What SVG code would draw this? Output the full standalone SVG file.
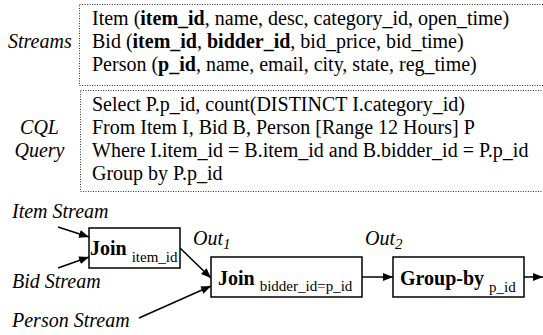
<svg xmlns="http://www.w3.org/2000/svg" width="543" height="335" viewBox="0 0 543 335">
<defs>
<marker id="ah" viewBox="0 0 10 10" refX="10" refY="5" markerWidth="10" markerHeight="10" markerUnits="userSpaceOnUse" orient="auto">
<path d="M0,1 L10,5 L0,9 Z" fill="#000"/>
</marker>
</defs>
<style>
text{font-family:"Liberation Serif","Times New Roman",serif;font-size:20px;fill:#000}
.it{font-style:italic}
.b{font-weight:bold}
.sub{font-size:15px}
.dot{fill:none;stroke:#333;stroke-width:1;stroke-dasharray:1 1.5}
.box{fill:#fff;stroke:#000;stroke-width:1.5}
.edge{fill:none;stroke:#000;stroke-width:1.5;marker-end:url(#ah)}
</style>
<g id="streams">
<rect class="dot" x="79.5" y="4.5" width="470" height="81"/>
<text class="it" x="8" y="48">Streams</text>
<text x="92" y="25">Item (<tspan class="b">item_id</tspan>, name, desc, category_id, open_time)</text>
<text x="92" y="48">Bid (<tspan class="b">item_id</tspan>, <tspan class="b">bidder_id</tspan>, bid_price, bid_time)</text>
<text x="92" y="71">Person (<tspan class="b">p_id</tspan>, name, email, city, state, reg_time)</text>
</g>
<g id="query">
<rect class="dot" x="80.5" y="90.5" width="470" height="101"/>
<text class="it" x="39.5" y="134" text-anchor="middle">CQL</text>
<text class="it" x="39.5" y="157" text-anchor="middle">Query</text>
<text x="92" y="111">Select P.p_id, count(DISTINCT I.category_id)</text>
<text x="92" y="134">From Item I, Bid B, Person [Range 12 Hours] P</text>
<text x="92" y="157">Where I.item_id = B.item_id and B.bidder_id = P.p_id</text>
<text x="92" y="180">Group by P.p_id</text>
</g>
<g id="labels">
<text class="it" x="12" y="218">Item Stream</text>
<text class="it" x="12" y="288">Bid Stream</text>
<text class="it" x="12" y="327">Person Stream</text>
<text class="it" x="193" y="245">Out<tspan class="sub" dy="4">1</tspan></text>
<text class="it" x="365" y="245">Out<tspan class="sub" dy="4">2</tspan></text>
</g>
<g id="connectors">
<line class="edge" x1="58" y1="227" x2="89" y2="237"/>
<line class="edge" x1="58" y1="268" x2="89" y2="257"/>
<line class="edge" x1="139" y1="318" x2="211" y2="286"/>
<line class="edge" x1="180" y1="248" x2="211" y2="278"/>
<line class="edge" x1="362" y1="277" x2="393" y2="277"/>
<line class="edge" x1="524" y1="277" x2="543" y2="277"/>
</g>
<g id="join1">
<rect class="box" x="89" y="228" width="91" height="40"/>
<text class="b" x="90" y="255">Join <tspan class="sub" font-weight="normal" dy="7">item_id</tspan></text>
</g>
<g id="join2">
<rect class="box" x="211" y="257" width="151" height="40"/>
<text class="b" x="218" y="285">Join <tspan class="sub" font-weight="normal" dy="6">bidder_id=p_id</tspan></text>
</g>
<g id="groupby">
<rect class="box" x="393" y="257" width="131" height="40"/>
<text class="b" x="400" y="285">Group-by <tspan class="sub" font-weight="normal" dy="7">p_id</tspan></text>
</g>
</svg>
